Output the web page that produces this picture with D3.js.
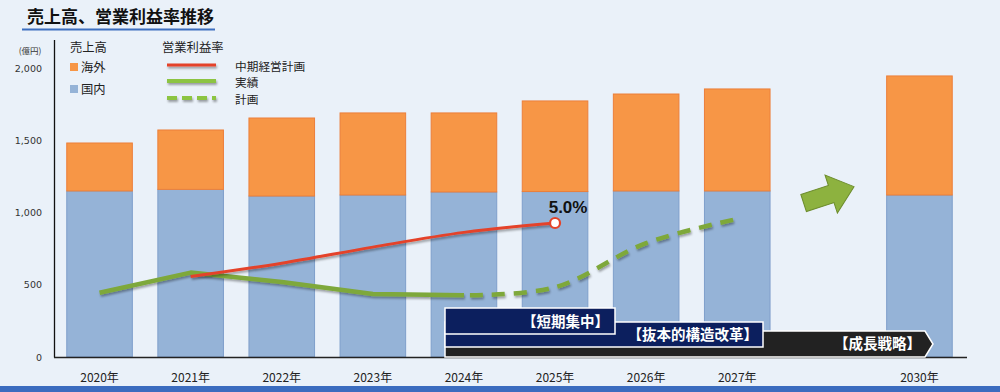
<!DOCTYPE html>
<html>
<head>
<meta charset="utf-8">
<script src="https://cdn.jsdelivr.net/npm/d3@7"></script>
<style>
  html, body { margin: 0; padding: 0; background: #eaf1f9; }
  svg { display: block; }
  text { font-family: "Noto Sans CJK JP", "Noto Sans", sans-serif; }
</style>
</head>
<body>
<svg id="chart" width="1000" height="392"></svg>
<script>
// slots on the x axis; "gap" is the empty slot that holds the arrow
const slots = ["2020", "2021", "2022", "2023", "2024", "2025", "2026", "2027", "gap", "2030"];
const years = ["2020", "2021", "2022", "2023", "2024", "2025", "2026", "2027", "2030"];
const domestic = [1149, 1160, 1114, 1121, 1142, 1145, 1149, 1149, 1121];   // 国内 (億円)
const overseas = [332, 411, 540, 568, 547, 627, 671, 706, 824];           // 海外 (億円)
const yTicks = [0, 500, 1000, 1500, 2000];

// 営業利益率 (%)
const planYears = ["2021", "2022", "2023", "2024", "2025"];
const planMargin = [3.0, 3.5, 4.1, 4.65, 5.0];          // 中期経営計画
const actualYears = ["2020", "2021", "2022", "2023", "2024"];
const actualMargin = [2.4, 3.15, 2.8, 2.35, 2.3];      // 実績
const forecastYears = ["2024", "2025", "2026", "2027"];
const forecastMargin = [2.3, 2.6, 4.25, 5.15];          // 計画

const phases = ["【短期集中】", "【抜本的構造改革】", "【成長戦略】"];

const svg = d3.select("#chart");
const W = 1000, H = 392;

svg.append("rect").attr("width", W).attr("height", H).attr("fill", "#eaf1f9");
svg.append("rect").attr("x", 0).attr("y", 386).attr("width", W).attr("height", 6).attr("fill", "#3b6cbf");

const defs = svg.append("defs");
const sh = defs.append("filter").attr("id", "shadow").attr("filterUnits", "userSpaceOnUse")
  .attr("x", 0).attr("y", 0).attr("width", W).attr("height", H);
sh.append("feDropShadow").attr("dx", 1).attr("dy", 2).attr("stdDeviation", 1.2).attr("flood-color", "#000").attr("flood-opacity", 0.35);

const x = d3.scaleBand().domain(slots).range([54, 965]).paddingInner(0.28).paddingOuter(0.14);
const y = d3.scaleLinear().domain([0, 2000]).range([357, 68]);
const y2 = d3.scaleLinear().domain([0, 10]).range([357, 89]);

// title
svg.append("text").attr("x", 27).attr("y", 23).attr("font-size", 17).attr("font-weight", "bold")
  .attr("fill", "#111").text("売上高、営業利益率推移");
svg.append("line").attr("x1", 22).attr("x2", 215).attr("y1", 29.5).attr("y2", 29.5)
  .attr("stroke", "#3d6fbf").attr("stroke-width", 2);

// y axis labels
svg.append("text").attr("x", 30).attr("y", 54).attr("text-anchor", "middle").attr("font-size", 8.5)
  .attr("fill", "#333").text("(億円)");
svg.selectAll(".ytick").data(yTicks).join("text")
  .attr("class", "ytick")
  .attr("x", 42).attr("y", d => y(d) + 3.5)
  .attr("text-anchor", "end").attr("font-size", 9.5).attr("fill", "#333")
  .style("font-family", "'DejaVu Sans', sans-serif")
  .text(d => d3.format(",")(d));

// stacked bars
const stack = years.map((yr, i) => ({ yr, dom: domestic[i], ovs: overseas[i] }));
const bars = svg.append("g");
bars.selectAll(".dom").data(stack).join("rect")
  .attr("x", d => x(d.yr)).attr("width", x.bandwidth())
  .attr("y", d => y(d.dom)).attr("height", d => y(0) - y(d.dom))
  .attr("fill", "#95b3d7").attr("stroke", "#7f9fcb").attr("stroke-width", 1);
bars.selectAll(".ovs").data(stack).join("rect")
  .attr("x", d => x(d.yr)).attr("width", x.bandwidth())
  .attr("y", d => y(d.dom + d.ovs)).attr("height", d => y(d.dom) - y(d.dom + d.ovs))
  .attr("fill", "#f79646").attr("stroke", "#ec7f3a").attr("stroke-width", 1);

// axes lines
svg.append("line").attr("x1", 54.5).attr("x2", 54.5).attr("y1", 40).attr("y2", 357.5).attr("stroke", "#111").attr("stroke-width", 1.3);
svg.append("line").attr("x1", 54).attr("x2", 967).attr("y1", 357.5).attr("y2", 357.5).attr("stroke", "#222").attr("stroke-width", 1.3);

// x labels
svg.selectAll(".xl").data(years).join("text")
  .attr("x", d => x(d) + x.bandwidth() / 2).attr("y", 382)
  .attr("text-anchor", "middle").attr("font-size", 12).attr("fill", "#222")
  .text(d => d + "年");

// margin lines
const cx = d => x(d) + x.bandwidth() / 2;
const lineSmooth = d3.line().x(d => cx(d[0])).y(d => y2(d[1])).curve(d3.curveCatmullRom.alpha(0.5));
const lineStraight = d3.line().x(d => cx(d[0])).y(d => y2(d[1]));
const zip = (a, b) => a.map((k, i) => [k, b[i]]);

svg.append("path").datum(zip(actualYears, actualMargin)).attr("d", lineStraight)
  .attr("fill", "none").attr("stroke", "#7ea83a").attr("stroke-width", 4.5)
  .attr("stroke-linejoin", "round").attr("filter", "url(#shadow)");
svg.append("path").datum(zip(forecastYears, forecastMargin)).attr("d", lineSmooth)
  .attr("fill", "none").attr("stroke", "#7ea83a").attr("stroke-width", 4.5)
  .attr("stroke-dasharray", "13 9").attr("stroke-dashoffset", -6).attr("filter", "url(#shadow)");
svg.append("path").datum(zip(planYears, planMargin)).attr("d", lineSmooth)
  .attr("fill", "none").attr("stroke", "#e4432a").attr("stroke-width", 3)
  .attr("filter", "url(#shadow)");

const last = planYears.length - 1;
svg.append("circle").attr("cx", cx(planYears[last])).attr("cy", y2(planMargin[last])).attr("r", 5)
  .attr("fill", "#fff").attr("stroke", "#e4432a").attr("stroke-width", 2.2);
svg.append("text").attr("x", cx(planYears[last]) + 13).attr("y", y2(planMargin[last]) - 10)
  .attr("text-anchor", "middle").attr("font-size", 17).attr("font-weight", "bold").attr("fill", "#111")
  .style("font-family", "'Liberation Sans', Arial, sans-serif")
  .text(d3.format(".1f")(planMargin[last]) + "%");

// green arrow in the gap slot
const ga = svg.append("g").attr("transform", `translate(${cx("gap")},195) rotate(-18)`);
ga.append("path").attr("d", "M-26,-9 L3,-9 L3,-20 L27,0 L3,20 L3,9 L-26,9 Z")
  .attr("fill", "#8db23f").attr("stroke", "#6c8c2c").attr("stroke-width", 1);

// phase banners
const bx = 445;
const g3 = svg.append("g").attr("font-size", 14.5).attr("font-weight", "bold").attr("fill", "#fff");
g3.append("path").attr("d", `M${bx},331 L925,331 L933,344 L925,357 L${bx},357 Z`)
  .attr("fill", "#222").attr("stroke", "#fff").attr("stroke-width", 1.5);
g3.append("text").attr("x", 921).attr("y", 349).attr("text-anchor", "end").text(phases[2]);
g3.append("rect").attr("x", bx).attr("y", 322).attr("width", 763 - bx).attr("height", 25)
  .attr("fill", "#0c1f5e").attr("stroke", "#fff").attr("stroke-width", 1.5);
g3.append("text").attr("x", 758).attr("y", 340).attr("text-anchor", "end").text(phases[1]);
g3.append("rect").attr("x", bx).attr("y", 308).attr("width", 615 - bx).attr("height", 26)
  .attr("fill", "#0c1f5e").attr("stroke", "#fff").attr("stroke-width", 1.5);
g3.append("text").attr("x", 609).attr("y", 326.5).attr("text-anchor", "end").text(phases[0]);

// legend
const lg = svg.append("g").attr("font-size", 12.3).attr("fill", "#222");
lg.append("text").attr("x", 70).attr("y", 52).text("売上高");
lg.append("rect").attr("x", 70).attr("y", 63).attr("width", 8).attr("height", 8).attr("fill", "#f79646");
lg.append("text").attr("x", 81).attr("y", 71.5).text("海外");
lg.append("rect").attr("x", 70).attr("y", 85).attr("width", 8).attr("height", 8).attr("fill", "#95b3d7");
lg.append("text").attr("x", 81).attr("y", 93.5).text("国内");

lg.append("text").attr("x", 162).attr("y", 52).text("営業利益率");
lg.append("line").attr("x1", 167).attr("x2", 216).attr("y1", 65).attr("y2", 65)
  .attr("stroke", "#e4432a").attr("stroke-width", 3).attr("filter", "url(#shadow)");
lg.append("line").attr("x1", 167).attr("x2", 216).attr("y1", 81).attr("y2", 81)
  .attr("stroke", "#8cc443").attr("stroke-width", 4).attr("filter", "url(#shadow)");
lg.append("line").attr("x1", 167).attr("x2", 216).attr("y1", 98).attr("y2", 98)
  .attr("stroke", "#8cc443").attr("stroke-width", 4).attr("stroke-dasharray", "10 5").attr("filter", "url(#shadow)");
lg.append("text").attr("x", 235).attr("y", 70.5).attr("font-size", 11.7).text("中期経営計画");
lg.append("text").attr("x", 235).attr("y", 87).attr("font-size", 11.7).text("実績");
lg.append("text").attr("x", 235).attr("y", 104).attr("font-size", 11.7).text("計画");
</script>
</body>
</html>
